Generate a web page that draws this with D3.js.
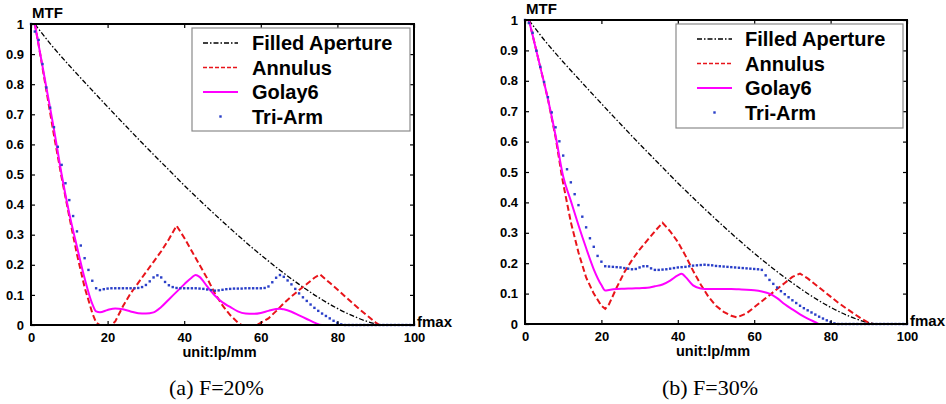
<!DOCTYPE html>
<html lang="en">
<head>
  <meta charset="UTF-8">
  <title>MTF</title>
  <script src="https://cdn.jsdelivr.net/npm/d3@7/dist/d3.min.js"></script>
  <style>
    body { margin: 0; background: #fff; }
    svg text { font-family: 'Liberation Sans', Arial, sans-serif; }
  </style>
</head>
<body>
  <script>
    var w = 946, h = 404

    // x positions (lp/mm) and MTF values
    var filledX = [1, 5, 10, 15, 20, 25, 30, 35, 40, 45, 50, 55, 60, 65, 70, 75, 80, 85, 90, 92, 100]
    var filledY = [1, 0.935, 0.862, 0.793, 0.725, 0.658, 0.592, 0.528, 0.464, 0.403, 0.344, 0.287, 0.233, 0.182, 0.135, 0.092, 0.055, 0.025, 0.004, 0, 0]

    // (a) F=20%
    var annulusAX = [1, 2, 4, 6, 8, 10, 12, 14, 16, 17, 18, 21, 22, 24, 26, 28, 30, 32, 34, 36, 38, 40, 42, 44, 46, 48, 50, 52, 54, 55, 59, 62, 64, 66, 68, 70, 72, 74, 75.5, 78, 80, 82, 84, 86, 88, 90, 91, 100]
    var annulusAY = [1, 0.93, 0.78, 0.63, 0.49, 0.36, 0.235, 0.125, 0.04, 0.008, 0, 0, 0.012, 0.062, 0.105, 0.14, 0.175, 0.21, 0.245, 0.285, 0.33, 0.29, 0.245, 0.2, 0.155, 0.105, 0.065, 0.033, 0.008, 0, 0, 0.022, 0.046, 0.072, 0.095, 0.116, 0.136, 0.157, 0.168, 0.14, 0.118, 0.095, 0.072, 0.05, 0.029, 0.008, 0, 0]
    var golayAX = [1, 2, 4, 6, 8, 10, 12, 14, 16, 17, 18, 20, 22, 24, 26, 28, 30, 32, 34, 36, 38, 40, 42, 43, 44, 46, 48, 50, 52, 54, 56, 58, 60, 62, 64, 65, 66, 68, 70, 72, 74, 76, 100]
    var golayAY = [1, 0.93, 0.79, 0.65, 0.5, 0.37, 0.26, 0.155, 0.07, 0.045, 0.042, 0.05, 0.055, 0.052, 0.045, 0.039, 0.038, 0.042, 0.06, 0.085, 0.11, 0.135, 0.158, 0.166, 0.16, 0.128, 0.098, 0.075, 0.06, 0.045, 0.038, 0.037, 0.04, 0.047, 0.053, 0.054, 0.052, 0.044, 0.032, 0.02, 0.008, 0, 0]
    var triArmA = [1, 0.975, 0.947, 0.867, 0.789, 0.722, 0.657, 0.592, 0.532, 0.471, 0.415, 0.362, 0.311, 0.264, 0.222, 0.183, 0.147, 0.122, 0.116, 0.119,
      0.121, 0.122, 0.122, 0.122, 0.122, 0.122, 0.122, 0.122, 0.123, 0.126, 0.133, 0.145, 0.158, 0.165, 0.158, 0.143, 0.132, 0.126, 0.123, 0.122,
      0.122, 0.122, 0.122, 0.122, 0.121, 0.12, 0.118, 0.116, 0.114, 0.115, 0.117, 0.119, 0.12, 0.121, 0.121, 0.121, 0.122, 0.122, 0.122, 0.122,
      0.122, 0.123, 0.128, 0.142, 0.157, 0.166, 0.16, 0.148, 0.135, 0.12, 0.105, 0.092, 0.08, 0.068, 0.057, 0.047, 0.038, 0.03, 0.022, 0.014,
      0.007, 0.002, 0, 0, 0, 0, 0, 0, 0, 0, 0, 0, 0, 0, 0, 0, 0, 0, 0, 0, 0]

    // (b) F=30%
    var annulusBX = [1, 2, 4, 6, 8, 9.6, 10, 12, 14, 16, 18, 20, 21, 22, 24, 26, 28, 30, 32, 34, 36, 38, 40, 42, 44, 46, 48, 50, 52, 54, 55.5, 58, 60, 62, 64, 66, 68, 70, 72, 74, 76, 78, 80, 82, 84, 86, 88, 90, 91, 100]
    var annulusBY = [1, 0.95, 0.845, 0.74, 0.615, 0.49, 0.462, 0.335, 0.235, 0.153, 0.1, 0.06, 0.05, 0.065, 0.12, 0.17, 0.21, 0.245, 0.275, 0.305, 0.333, 0.305, 0.27, 0.225, 0.175, 0.13, 0.09, 0.06, 0.04, 0.027, 0.022, 0.035, 0.055, 0.075, 0.095, 0.115, 0.135, 0.155, 0.166, 0.15, 0.13, 0.11, 0.09, 0.07, 0.052, 0.035, 0.018, 0.004, 0, 0]
    var golayBX = [1, 2, 4, 6, 8, 10, 12, 14, 16, 18, 20, 21, 22, 24, 26, 28, 30, 32, 34, 36, 38, 40, 41, 42, 44, 46, 48, 50, 52, 54, 56, 58, 60, 62, 64, 66, 68, 70, 72, 74, 76, 77, 100]
    var golayBY = [1, 0.95, 0.845, 0.74, 0.62, 0.485, 0.405, 0.325, 0.25, 0.18, 0.128, 0.11, 0.112, 0.115, 0.116, 0.117, 0.118, 0.119, 0.124, 0.13, 0.143, 0.16, 0.165, 0.155, 0.127, 0.117, 0.115, 0.115, 0.115, 0.115, 0.114, 0.113, 0.111, 0.107, 0.1, 0.085, 0.065, 0.048, 0.032, 0.018, 0.006, 0, 0]
    var triArmB = [1, 0.99, 0.958, 0.899, 0.846, 0.796, 0.746, 0.696, 0.647, 0.601, 0.554, 0.509, 0.466, 0.427, 0.391, 0.353, 0.318, 0.282, 0.254, 0.224,
      0.205, 0.19, 0.189, 0.188, 0.187, 0.186, 0.184, 0.182, 0.18, 0.181, 0.186, 0.19, 0.19, 0.183, 0.178, 0.178, 0.179, 0.18, 0.182, 0.184,
      0.186, 0.187, 0.188, 0.19, 0.192, 0.193, 0.194, 0.195, 0.194, 0.193, 0.191, 0.19, 0.189, 0.188, 0.187, 0.186, 0.185, 0.184, 0.183, 0.182,
      0.181, 0.18, 0.178, 0.16, 0.145, 0.132, 0.12, 0.108, 0.098, 0.088, 0.078, 0.069, 0.06, 0.052, 0.045, 0.038, 0.031, 0.024, 0.018, 0.012,
      0.006, 0.002, 0, 0, 0, 0, 0, 0, 0, 0, 0, 0, 0, 0, 0, 0, 0, 0, 0, 0, 0]

    var xTicks = [0, 20, 40, 60, 80, 100]
    var yTicks = [0, 0.1, 0.2, 0.3, 0.4, 0.5, 0.6, 0.7, 0.8, 0.9, 1]
    var legendNames = ['Filled Aperture', 'Annulus', 'Golay6', 'Tri-Arm']
    var captions = ['(a) F=20%', '(b) F=30%']

    var panels = [
      { left: 31, right: 414, top: 24, bottom: 325, annX: annulusAX, annY: annulusAY, golX: golayAX, golY: golayAY, tri: triArmA,
        lg: { x: 192, y: 28, w: 218, h: 103, s0: 11, s1: 46, tx: 60, row0: 15, step: 24.5 } },
      { left: 525, right: 907, top: 20, bottom: 324, annX: annulusBX, annY: annulusBY, golX: golayBX, golY: golayBY, tri: triArmB,
        lg: { x: 676, y: 24, w: 227, h: 104, s0: 21, s1: 56, tx: 69, row0: 15, step: 24.5 } }
    ]

    var svg = d3.select('body').append('svg').attr('width', w).attr('height', h)

    function pairs(xs, ys) { return xs.map(function (x, i) { return [x, ys[i]] }) }

    panels.forEach(function (p, k) {
      var x = d3.scaleLinear().domain([0, 100]).range([p.left, p.right])
      var y = d3.scaleLinear().domain([0, 1]).range([p.bottom, p.top])
      var g = svg.append('g')
      var line = d3.line().x(function (d) { return x(d[0]) }).y(function (d) { return y(d[1]) })

      // curves
      g.append('path').datum(pairs(filledX, filledY))
        .attr('d', line.curve(d3.curveMonotoneX)).attr('fill', 'none')
        .attr('stroke', '#000').attr('stroke-width', 1.3).attr('stroke-dasharray', '5,2,1.5,2')
      g.append('path').datum(pairs(p.annX, p.annY))
        .attr('d', line.curve(d3.curveLinear)).attr('fill', 'none')
        .attr('stroke', '#e8141a').attr('stroke-width', 2).attr('stroke-dasharray', '6,3')
      g.append('path').datum(pairs(p.golX, p.golY))
        .attr('d', line.curve(d3.curveMonotoneX)).attr('fill', 'none')
        .attr('stroke', '#ff00ff').attr('stroke-width', 2)
      g.selectAll('.dot').data(p.tri).enter().append('rect')
        .attr('x', function (d, i) { return x(i) - 1.2 })
        .attr('y', function (d) { return y(d) - 1.2 })
        .attr('width', 2.4).attr('height', 2.4).attr('fill', '#2a3fc8')

      // axes box with inward ticks
      g.append('g').attr('transform', 'translate(0,' + p.bottom + ')')
        .call(d3.axisBottom(x).tickValues(xTicks).tickSizeInner(-4).tickSizeOuter(0).tickPadding(8))
      g.append('g').attr('transform', 'translate(0,' + p.top + ')')
        .call(d3.axisTop(x).tickValues(xTicks).tickSizeInner(-4).tickSizeOuter(0).tickFormat(''))
      g.append('g').attr('transform', 'translate(' + p.left + ',0)')
        .call(d3.axisLeft(y).tickValues(yTicks).tickSizeInner(-4).tickSizeOuter(0).tickPadding(7)
          .tickFormat(function (d) { return d === 0 || d === 1 ? d3.format('d')(d) : d3.format('.1f')(d) }))
      g.append('g').attr('transform', 'translate(' + p.right + ',0)')
        .call(d3.axisRight(y).tickValues(yTicks).tickSizeInner(-4).tickSizeOuter(0).tickFormat(''))
      g.selectAll('.domain').remove()
      g.append('rect').attr('x', p.left).attr('y', p.top).attr('width', p.right - p.left).attr('height', p.bottom - p.top)
        .attr('fill', 'none').attr('stroke', '#000').attr('stroke-width', 2)
      g.selectAll('.tick line').attr('stroke', '#000').attr('stroke-width', 1.2)
      g.selectAll('.tick text').attr('font-size', '13px').attr('font-weight', 'bold').attr('fill', '#000')
        .style('font-family', "'Liberation Sans', Arial, sans-serif")

      // labels
      g.append('text').attr('x', p.left + 1).attr('y', p.top - 6).text('MTF')
        .attr('font-size', '15px').attr('font-weight', 'bold')
      g.append('text').attr('x', p.right + 3).attr('y', p.bottom + 2).text('fmax')
        .attr('font-size', '15px').attr('font-weight', 'bold')
      g.append('text').attr('x', (p.left + p.right) / 2 - 3).attr('y', p.bottom + 32).text('unit:lp/mm')
        .attr('text-anchor', 'middle').attr('font-size', '14.5px').attr('font-weight', 'bold')
      g.append('text').attr('x', (p.left + p.right) / 2 - 6).attr('y', 395).text(captions[k])
        .attr('text-anchor', 'middle').attr('font-size', '22px')
        .style('font-family', "'Liberation Serif', 'Times New Roman', serif")

      // legend
      var lg = p.lg
      var leg = g.append('g').attr('transform', 'translate(' + lg.x + ',' + lg.y + ')')
      leg.append('rect').attr('width', lg.w).attr('height', lg.h).attr('fill', '#fff')
        .attr('stroke', '#8a8a8a').attr('stroke-width', 1.2)
      var styles = [
        { stroke: '#000', width: 1.3, dash: '5,2,1.5,2' },
        { stroke: '#e8141a', width: 1.6, dash: '4,2' },
        { stroke: '#ff00ff', width: 2, dash: null },
        null
      ]
      legendNames.forEach(function (name, i) {
        var cy = lg.row0 + i * lg.step
        if (styles[i]) {
          leg.append('line').attr('x1', lg.s0).attr('x2', lg.s1).attr('y1', cy).attr('y2', cy)
            .attr('stroke', styles[i].stroke).attr('stroke-width', styles[i].width)
            .attr('stroke-dasharray', styles[i].dash)
        } else {
          leg.append('rect').attr('x', (lg.s0 + lg.s1) / 2 - 1.2).attr('y', cy - 1.2)
            .attr('width', 2.4).attr('height', 2.4).attr('fill', '#2a3fc8')
        }
        leg.append('text').attr('x', lg.tx).attr('y', cy + 7).text(name)
          .attr('font-size', '20px').attr('font-weight', 'bold')
      })
    })
  </script>
</body>
</html>
